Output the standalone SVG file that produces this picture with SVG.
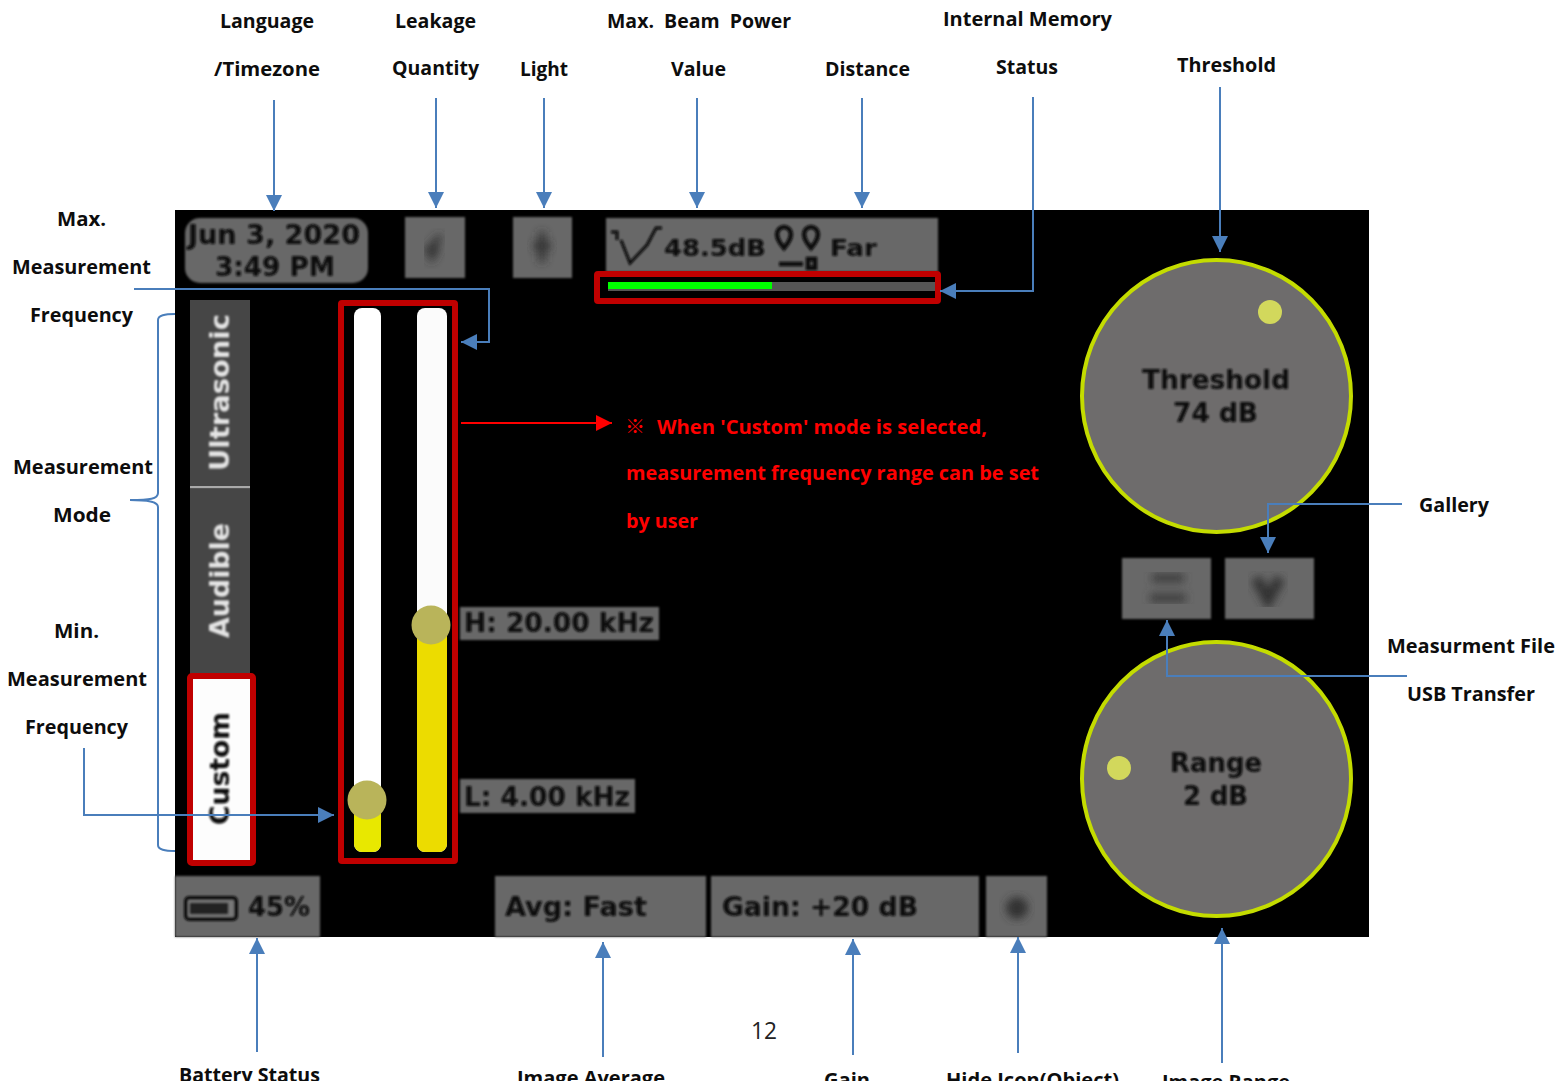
<svg xmlns="http://www.w3.org/2000/svg" width="1559" height="1081" viewBox="0 0 1559 1081">
<style>
.l{font-family:"Open Sans","Liberation Sans",sans-serif;font-weight:700;font-size:20px;fill:#0d0d0d}
.r{font-family:"Open Sans","Liberation Sans",sans-serif;font-weight:700;font-size:20px;fill:#f00}
.s{font-family:"DejaVu Sans",sans-serif;font-weight:700;font-size:26px;fill:#0a0a0a}
.w{font-family:"DejaVu Sans",sans-serif;font-weight:700;font-size:26px;fill:#e4e4e4}
.p{fill:#686868;filter:url(#e)}
.c{fill:#6e6c6c;stroke:#c4dc00;stroke-width:4}
.hl{fill:none;stroke:#c00000;stroke-width:6}
.cn{fill:none;stroke:#4a7ebb;stroke-width:2;marker-end:url(#a)}
.b{filter:url(#f)}
</style>
<defs>
<marker id="a" markerUnits="userSpaceOnUse" markerWidth="16" markerHeight="16" viewBox="0 0 16 16" refX="16" refY="8" orient="auto"><path d="M0 0L16 8L0 16Z" fill="#4a7ebb"/></marker>
<marker id="ar" markerUnits="userSpaceOnUse" markerWidth="16" markerHeight="16" viewBox="0 0 16 16" refX="16" refY="8" orient="auto"><path d="M0 0L16 8L0 16Z" fill="#f00"/></marker>
<filter id="f" x="-10%" y="-20%" width="120%" height="140%"><feGaussianBlur stdDeviation="1.100"/></filter>
<filter id="e" x="-5%" y="-5%" width="110%" height="110%"><feGaussianBlur stdDeviation="1"/></filter>
<filter id="g" x="-30%" y="-30%" width="160%" height="160%"><feGaussianBlur stdDeviation="4"/></filter>
</defs>
<rect width="1559" height="1081" fill="#fff"/>
<g id="screen"><rect x="175" y="210" width="1194" height="727" fill="#000"/></g>

<g id="date"><rect class="p" x="185" y="218" width="183" height="65" rx="15"/>
<text class="s b" x="188" y="244" textLength="172" lengthAdjust="spacingAndGlyphs">Jun 3, 2020</text>
<text class="s b" x="215" y="276" textLength="120" lengthAdjust="spacingAndGlyphs">3:49 PM</text></g>

<g id="leakage-icon"><rect class="p" x="405" y="217" width="60" height="61"/>
<path d="M441 236L428 250H436L430 261" fill="none" stroke="#333" stroke-width="6" filter="url(#g)"/></g>
<g id="light-icon"><rect class="p" x="513" y="217" width="59" height="61"/>
<path d="M542 232V262M533 246H551" fill="none" stroke="#333" stroke-width="7" filter="url(#g)"/></g>

<g id="beam"><rect class="p" x="606" y="218" width="332" height="54"/>
<path d="M611 232H617V240M621 240L630 263L647 245L656 228H662" fill="none" stroke="#0a0a0a" stroke-width="3" class="b"/>
<text class="s b" x="664" y="256" textLength="102" lengthAdjust="spacingAndGlyphs" style="font-size:23px">48.5dB</text>
<path d="M777 234a7 7 0 0 1 14 0q0 6-7 14q-7-8-7-14ZM804 234a7 7 0 0 1 14 0q0 6-7 14q-7-8-7-14ZM779 264h24M808 259h7v9h-7Z" fill="none" stroke="#0a0a0a" stroke-width="4.500" class="b"/>
<text class="s b" x="830" y="256" textLength="47" lengthAdjust="spacingAndGlyphs" style="font-size:23px">Far</text></g>

<g id="memory-bar"><rect x="608" y="282" width="327" height="9" fill="#555"/><rect x="608" y="282" width="164" height="7" fill="#0f0"/>
<rect x="597" y="274" width="341" height="27" rx="1" fill="none" stroke="#c00000" stroke-width="6"/></g>

<g id="tab-ultrasonic"><rect x="190" y="300" width="60" height="187" fill="#464646"/><rect x="190" y="486" width="60" height="2.500" fill="#aaa"/>
<text class="w b" transform="translate(229 471) rotate(-90)" textLength="157" lengthAdjust="spacingAndGlyphs">Ultrasonic</text></g>
<g id="tab-audible"><rect x="190" y="489" width="60" height="186" fill="#464646"/>
<text class="w b" transform="translate(229 638) rotate(-90)" textLength="115" lengthAdjust="spacingAndGlyphs">Audible</text></g>
<g id="tab-custom"><rect x="190" y="676" width="63" height="187" fill="#fdfdfd" stroke="#c00000" stroke-width="6" rx="2"/>
<text class="s b" transform="translate(229 825) rotate(-90)" textLength="113" lengthAdjust="spacingAndGlyphs">Custom</text></g>

<g id="sliders">
<rect x="354" y="308" width="27" height="544" rx="8" fill="#fff"/>
<rect x="417" y="308" width="30" height="544" rx="8" fill="#fbfbfb"/>
<path d="M354 800H381V844a8 8 0 0 1-8 8H362a8 8 0 0 1-8-8Z" fill="#e8e800"/>
<path d="M417 625H447V844a8 8 0 0 1-8 8H425a8 8 0 0 1-8-8Z" fill="#ecdc00"/>
<circle cx="367" cy="800" r="19.500" fill="#b9b45a"/>
<circle cx="431" cy="625" r="19.500" fill="#b9b45a"/>
<rect class="hl" x="341" y="303" width="114" height="558" rx="1"/></g>

<g id="high-label"><rect class="p" x="460" y="607" width="199" height="33"/>
<text class="s b" x="464" y="632" textLength="190" lengthAdjust="spacingAndGlyphs">H: 20.00 kHz</text></g>
<g id="low-label"><rect class="p" x="460" y="779" width="175" height="34"/>
<text class="s b" x="464" y="806" textLength="166" lengthAdjust="spacingAndGlyphs">L: 4.00 kHz</text></g>

<g id="note">
<text class="r" x="625" y="434" style="font-family:'Noto Sans CJK KR','Open Sans',sans-serif;font-weight:400;font-size:20px">※</text>
<text class="r" x="657" y="434" textLength="330" lengthAdjust="spacingAndGlyphs">When 'Custom' mode is selected,</text>
<text class="r" x="626" y="480" textLength="413" lengthAdjust="spacingAndGlyphs">measurement frequency range can be set</text>
<text class="r" x="626" y="528" textLength="72" lengthAdjust="spacingAndGlyphs">by user</text></g>

<g id="threshold-dial"><ellipse class="c" cx="1216.500" cy="396" rx="134.500" ry="136"/><circle cx="1270" cy="312" r="12" fill="#d2d85c"/>
<text class="s b" x="1142" y="389" textLength="148" lengthAdjust="spacingAndGlyphs">Threshold</text>
<text class="s b" x="1173" y="422" textLength="85" lengthAdjust="spacingAndGlyphs">74 dB</text></g>
<g id="range-dial"><ellipse class="c" cx="1216.500" cy="779" rx="134.500" ry="137"/><circle cx="1119" cy="768" r="12" fill="#d2d85c"/>
<text class="s b" x="1170" y="772" textLength="92" lengthAdjust="spacingAndGlyphs">Range</text>
<text class="s b" x="1183" y="805" textLength="65" lengthAdjust="spacingAndGlyphs">2 dB</text></g>

<g id="usb-button"><rect class="p" x="1122" y="558" width="89" height="61"/>
<path d="M1152 578H1184M1150 598H1186" stroke="#3c3c3c" stroke-width="9" filter="url(#g)"/></g>
<g id="gallery-button"><rect class="p" x="1225" y="558" width="89" height="61"/>
<path d="M1256 578L1268 600L1280 578" fill="none" stroke="#333" stroke-width="11" filter="url(#g)"/></g>

<g id="battery"><rect class="p" x="175" y="876" width="145" height="61"/>
<rect x="186" y="898" width="50" height="21" rx="3" fill="#777" stroke="#0a0a0a" stroke-width="4" class="b"/>
<rect x="190" y="903" width="38" height="11" fill="#222" class="b"/>
<text class="s b" x="248" y="916" textLength="62" lengthAdjust="spacingAndGlyphs">45%</text></g>
<g id="avg"><rect class="p" x="495" y="876" width="211" height="61"/>
<text class="s b" x="505" y="916" textLength="142" lengthAdjust="spacingAndGlyphs">Avg: Fast</text></g>
<g id="gain"><rect class="p" x="711" y="876" width="268" height="61"/>
<text class="s b" x="722" y="916" textLength="196" lengthAdjust="spacingAndGlyphs">Gain: +20 dB</text></g>
<g id="hide"><rect class="p" x="986" y="876" width="61" height="61"/>
<circle cx="1017" cy="908" r="11" fill="#333" filter="url(#g)"/></g>

<g id="connectors">
<path class="cn" d="M274 100V211"/>
<path class="cn" d="M436 98V208"/>
<path class="cn" d="M544 98V208"/>
<path class="cn" d="M697 98V208"/>
<path class="cn" d="M862 98V208"/>
<path class="cn" d="M1033 97V291H940"/>
<path class="cn" d="M1220 87V252"/>
<path class="cn" d="M134 289H489V342H461"/>
<path class="cn" d="M84 748V815H334"/>
<path class="cn" d="M1402 504H1268V553"/>
<path class="cn" d="M1407 676H1167V620"/>
<path class="cn" d="M257 1052V938"/>
<path class="cn" d="M603 1057V942"/>
<path class="cn" d="M853 1055V939"/>
<path class="cn" d="M1018 1053V937"/>
<path class="cn" d="M1222 1063V928"/>
<path d="M461 423H612" fill="none" stroke="#f00" stroke-width="2" marker-end="url(#ar)"/>
<path d="M175 314C165 314 158 315 158 320V493C158 499 150 500 130 500C150 500 158 502 158 507V845C158 850 165 851 175 851" fill="none" stroke="#4a7ebb" stroke-width="2"/>
</g>

<g id="labels">
<text class="l" x="220" y="28" textLength="94" lengthAdjust="spacingAndGlyphs">Language</text>
<text class="l" x="214" y="76" textLength="106" lengthAdjust="spacingAndGlyphs">/Timezone</text>
<text class="l" x="395" y="28" textLength="81" lengthAdjust="spacingAndGlyphs">Leakage</text>
<text class="l" x="392" y="75" textLength="87" lengthAdjust="spacingAndGlyphs">Quantity</text>
<text class="l" x="520" y="76" textLength="48" lengthAdjust="spacingAndGlyphs">Light</text>
<text class="l" x="607" y="28" textLength="184" lengthAdjust="spacingAndGlyphs" xml:space="preserve">Max.  Beam  Power</text>
<text class="l" x="671" y="76" textLength="55" lengthAdjust="spacingAndGlyphs">Value</text>
<text class="l" x="825" y="76" textLength="85" lengthAdjust="spacingAndGlyphs">Distance</text>
<text class="l" x="943" y="26" textLength="169" lengthAdjust="spacingAndGlyphs">Internal Memory</text>
<text class="l" x="996" y="74" textLength="62" lengthAdjust="spacingAndGlyphs">Status</text>
<text class="l" x="1177" y="72" textLength="99" lengthAdjust="spacingAndGlyphs">Threshold</text>
<text class="l" x="57" y="226" textLength="49" lengthAdjust="spacingAndGlyphs">Max.</text>
<text class="l" x="12" y="274" textLength="139" lengthAdjust="spacingAndGlyphs">Measurement</text>
<text class="l" x="30" y="322" textLength="103" lengthAdjust="spacingAndGlyphs">Frequency</text>
<text class="l" x="13" y="474" textLength="140" lengthAdjust="spacingAndGlyphs">Measurement</text>
<text class="l" x="53" y="522" textLength="58" lengthAdjust="spacingAndGlyphs">Mode</text>
<text class="l" x="54" y="638" textLength="45" lengthAdjust="spacingAndGlyphs">Min.</text>
<text class="l" x="7" y="686" textLength="140" lengthAdjust="spacingAndGlyphs">Measurement</text>
<text class="l" x="25" y="734" textLength="103" lengthAdjust="spacingAndGlyphs">Frequency</text>
<text class="l" x="1419" y="512" textLength="70" lengthAdjust="spacingAndGlyphs">Gallery</text>
<text class="l" x="1387" y="653" textLength="168" lengthAdjust="spacingAndGlyphs">Measurment File</text>
<text class="l" x="1407" y="701" textLength="128" lengthAdjust="spacingAndGlyphs">USB Transfer</text>
<text class="l" x="179" y="1082" textLength="141" lengthAdjust="spacingAndGlyphs">Battery Status</text>
<text class="l" x="517" y="1085" textLength="148" lengthAdjust="spacingAndGlyphs">Image Average</text>
<text class="l" x="824" y="1087" textLength="46" lengthAdjust="spacingAndGlyphs">Gain</text>
<text class="l" x="946" y="1087" textLength="173" lengthAdjust="spacingAndGlyphs">Hide Icon(Object)</text>
<text class="l" x="1162" y="1089" textLength="128" lengthAdjust="spacingAndGlyphs">Image Range</text>
<text x="751" y="1039" style="font-family:'Open Sans',sans-serif;font-size:24px;fill:#222" textLength="26" lengthAdjust="spacingAndGlyphs">12</text>
</g>
</svg>
